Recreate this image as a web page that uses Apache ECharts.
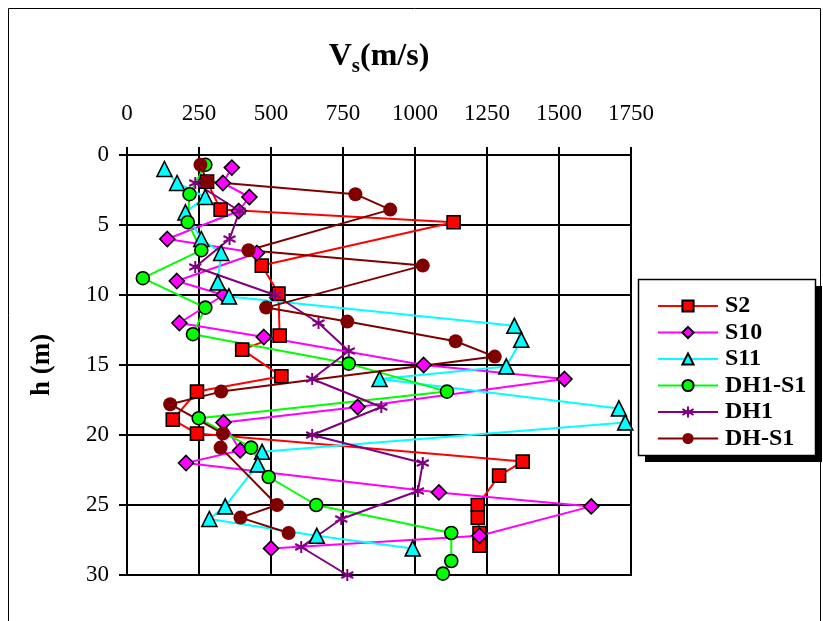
<!DOCTYPE html>
<html>
<head>
<meta charset="utf-8">
<script src="https://cdn.jsdelivr.net/npm/echarts@6/dist/echarts.min.js"></script>
<style>
  html, body { margin: 0; padding: 0; background: #fff; }
  #chart { width: 823px; height: 621px; }
</style>
</head>
<body>
<div id="chart"></div>
<script>
// Shear-wave velocity profiles: depth (m) and Vs (m/s) per borehole
const seriesNames = ['S2', 'S10', 'S11', 'DH1-S1', 'DH1', 'DH-S1'];

const s2Depth = [1.9, 3.9, 4.8, 7.9, 9.9, 12.9, 13.9, 15.8, 16.9, 18.9, 19.9, 21.9, 22.9, 25.0, 25.9, 27.0, 27.9];
const s2Vs    = [278, 325, 1134, 468, 526, 530, 400, 536, 243, 159, 243, 1374, 1292, 1218, 1218, 1224, 1224];

const s10Depth = [0.9, 2.0, 3.0, 4.0, 6.0, 7.0, 9.0, 10.0, 12.0, 13.0, 15.0, 16.0, 18.0, 19.1, 21.1, 22.0, 24.1, 25.1, 27.2, 28.1];
const s10Vs    = [364, 333, 425, 388, 140, 451, 173, 335, 182, 475, 1030, 1519, 801, 335, 393, 205, 1083, 1612, 1224, 500];

const s11Depth = [1.0, 2.0, 3.0, 4.1, 6.0, 7.0, 9.1, 10.1, 12.2, 13.2, 15.1, 16.0, 18.1, 19.1, 21.2, 22.1, 25.1, 26.0, 27.2, 28.1];
const s11Vs    = [130, 174, 272, 203, 258, 327, 315, 354, 1345, 1369, 1317, 877, 1708, 1730, 469, 454, 341, 286, 659, 992];

const dh1s1Depth = [0.7, 2.8, 4.8, 6.8, 8.8, 10.9, 12.8, 14.9, 16.9, 18.8, 20.9, 23.0, 25.0, 27.0, 29.0, 29.9];
const dh1s1Vs    = [272, 217, 211, 258, 55, 272, 229, 770, 1111, 249, 431, 492, 657, 1126, 1126, 1097];

const dh1Depth = [2, 4, 6, 8, 10, 12, 14, 16, 18, 20, 22, 24, 26, 28, 30];
const dh1Vs    = [237, 391, 356, 237, 514, 665, 770, 643, 883, 643, 1027, 1010, 744, 605, 765];

const dhs1Depth = [0.7, 1.9, 2.8, 3.9, 6.8, 7.9, 10.9, 11.9, 13.3, 14.4, 16.9, 17.8, 19.9, 20.9, 25.0, 25.9, 27.0];
const dhs1Vs    = [255, 278, 793, 914, 422, 1027, 483, 765, 1141, 1277, 327, 150, 333, 325, 521, 394, 561];

const vsTicks = [0, 250, 500, 750, 1000, 1250, 1500, 1750];
const depthTicks = [0, 5, 10, 15, 20, 25, 30];

const SERIF = '"Liberation Serif", "Times New Roman", serif';
const asterisk = 'path://M0,-10L0,10M-8.66,-5L8.66,5M-8.66,5L8.66,-5';

function pairs(vs, depth) {
  return vs.map((v, i) => [v, depth[i]]);
}

function profile(name, vs, depth, color, symbol, size, outline) {
  return {
    name: name,
    type: 'line',
    data: pairs(vs, depth),
    symbol: symbol,
    symbolSize: size,
    showAllSymbol: true,
    animation: false,
    lineStyle: { color: color, width: 2 },
    itemStyle: outline === 'stroke'
      ? { color: color, borderColor: color, borderWidth: 2 }
      : outline
        ? { color: color, borderColor: '#000', borderWidth: 1.6 }
        : { color: color, borderWidth: 0 },
    emphasis: { disabled: true }
  };
}

const chart = echarts.init(document.getElementById('chart'), null, { renderer: 'canvas' });

chart.setOption({
  backgroundColor: '#fff',
  animation: false,
  textStyle: { fontFamily: SERIF, color: '#000' },
  grid: {
    left: 127, top: 155, width: 504, height: 420,
    show: true, borderColor: '#000', borderWidth: 2, backgroundColor: '#fff'
  },
  xAxis: {
    type: 'value',
    position: 'top',
    min: vsTicks[0],
    max: vsTicks[vsTicks.length - 1],
    interval: vsTicks[1] - vsTicks[0],
    name: '{v|V}{sub|s}{v|(m/s)}',
    nameLocation: 'middle',
    nameGap: 78,
    nameTextStyle: {
      rich: {
        v: { fontFamily: SERIF, fontSize: 32, fontWeight: 'bold', color: '#000', lineHeight: 40, verticalAlign: 'middle' },
        sub: { fontFamily: SERIF, fontSize: 21, fontWeight: 'bold', color: '#000', lineHeight: 40, verticalAlign: 'bottom', padding: [18, 0, 0, 0] }
      }
    },
    axisLine: { show: true, lineStyle: { color: '#000', width: 2 } },
    axisTick: { show: true, inside: false, length: 8, lineStyle: { color: '#000', width: 2 } },
    axisLabel: { fontFamily: SERIF, fontSize: 23, color: '#000', margin: 30, formatter: v => String(v) },
    splitLine: { show: true, lineStyle: { color: '#000', width: 2 } }
  },
  yAxis: {
    type: 'value',
    inverse: true,
    min: depthTicks[0],
    max: depthTicks[depthTicks.length - 1],
    interval: depthTicks[1] - depthTicks[0],
    name: 'h (m)',
    nameLocation: 'middle',
    nameGap: 71,
    nameRotate: 90,
    nameTextStyle: { fontFamily: SERIF, fontSize: 27, fontWeight: 'bold', color: '#000' },
    axisLine: { show: true, lineStyle: { color: '#000', width: 2 } },
    axisTick: { show: true, inside: false, length: 8, lineStyle: { color: '#000', width: 2 } },
    axisLabel: { fontFamily: SERIF, fontSize: 23, color: '#000', margin: 18, formatter: v => String(v) },
    splitLine: { show: true, lineStyle: { color: '#000', width: 2 } }
  },
  legend: {
    orient: 'vertical',
    left: 652,
    top: 289,
    z: 10,
    itemWidth: 60,
    itemHeight: 14,
    itemGap: 2.5,
    selectedMode: false,
    textStyle: { fontFamily: SERIF, fontSize: 24, fontWeight: 'bold', color: '#000', padding: [0, 0, 0, 2] },
    data: seriesNames
  },
  graphic: [
    { type: 'rect', z: 0, silent: true, shape: { x: 8.5, y: 8.5, width: 812, height: 700 },
      style: { fill: null, stroke: '#000', lineWidth: 1 } },
    { type: 'rect', z: 1, silent: true, shape: { x: 645, y: 286, width: 177, height: 176 },
      style: { fill: '#000' } },
    { type: 'rect', z: 2, silent: true, shape: { x: 638.5, y: 279.5, width: 177, height: 176 },
      style: { fill: '#fff', stroke: '#000', lineWidth: 1.5 } }
  ],
  series: [
    profile('S2', s2Vs, s2Depth, '#ff0000', 'rect', 13, true),
    profile('S10', s10Vs, s10Depth, '#ff00ff', 'diamond', 15, true),
    profile('S11', s11Vs, s11Depth, '#00ffff', 'triangle', 15, true),
    profile('DH1-S1', dh1s1Vs, dh1s1Depth, '#00ff00', 'circle', 13, true),
    profile('DH1', dh1Vs, dh1Depth, '#800080', asterisk, 12, 'stroke'),
    profile('DH-S1', dhs1Vs, dhs1Depth, '#800000', 'circle', 14, false)
  ]
});
</script>
</body>
</html>
